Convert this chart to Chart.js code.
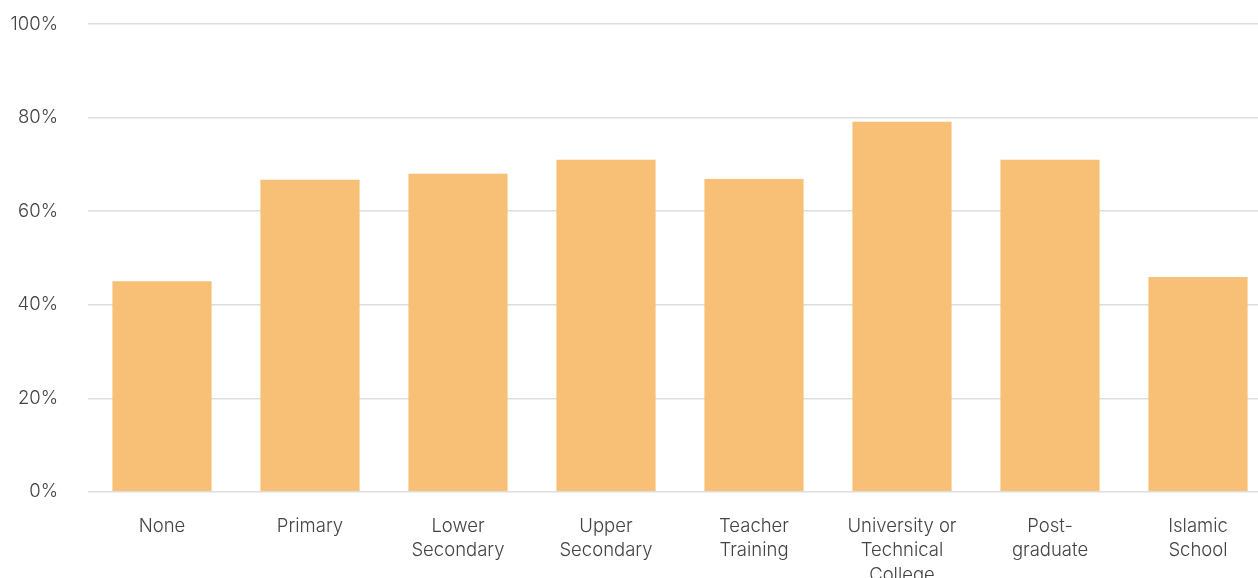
<!DOCTYPE html>
<html>
<head>
<meta charset="utf-8">
<script src="https://cdn.jsdelivr.net/npm/chart.js@4"></script>
<style>
  html, body { margin: 0; padding: 0; background: #fff; overflow: hidden; }
  #wrap { width: 1272px; height: 620px; margin-top: -18px; position: relative; }
</style>
</head>
<body>
<div id="wrap"><canvas id="grafico"></canvas></div>
<script>
// categorias e valores (%)
const categorias = [
    'None',
    'Primary',
    ['Lower', 'Secondary'],
    ['Upper', 'Secondary'],
    ['Teacher', 'Training'],
    ['University or', 'Technical', 'College'],
    ['Post-', 'graduate'],
    ['Islamic', 'School']
];
const valores = [45, 66.7, 68, 71, 66.9, 79.1, 71, 45.9];
const ticksY = [0, 20, 40, 60, 80, 100];

const fonte = { family: 'Inter, "Open Sans", sans-serif', size: 18.5, weight: 300, lineHeight: 1.3 };

new Chart(document.getElementById('grafico').getContext('2d'), {
    type: 'bar',
    data: {
        labels: categorias,
        datasets: [{
            data: valores,
            backgroundColor: '#F8BF76',
            barPercentage: 0.67,
            categoryPercentage: 1
        }]
    },
    options: {
        responsive: true,
        maintainAspectRatio: false,
        animation: false,
        layout: { padding: { top: -4, left: 0, right: 0, bottom: 0 } },
        plugins: { legend: { display: false }, tooltip: { enabled: false } },
        scales: {
            x: {
                grid: { display: false },
                border: { display: false },
                ticks: { color: '#444', font: fonte, padding: 15, maxRotation: 0, autoSkip: false }
            },
            y: {
                min: 0,
                max: 100,
                afterBuildTicks: axis => { axis.ticks = ticksY.map(v => ({ value: v })); },
                afterFit: axis => { axis.width = 88; },
                grid: { color: '#dedede', lineWidth: 1.5, drawTicks: false },
                border: { display: false },
                ticks: { color: '#444', font: fonte, padding: 30, callback: v => v + '%' }
            }
        }
    }
});
</script>
</body>
</html>
